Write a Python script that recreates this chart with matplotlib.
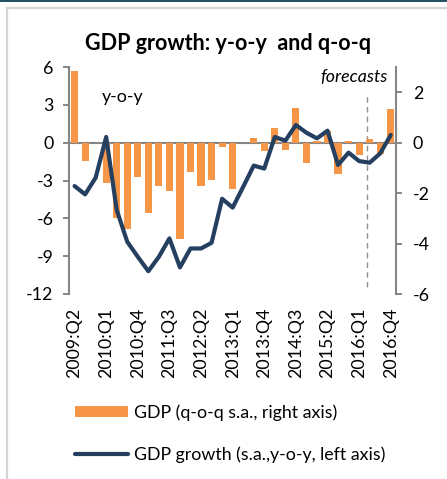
import matplotlib
matplotlib.use('Agg')
import matplotlib.pyplot as plt
from matplotlib.patches import Patch
from matplotlib.lines import Line2D
import numpy as np

plt.rcParams['font.family'] = ['Lato', 'DejaVu Sans']

# quarters 2009:Q2 .. 2016:Q4
quarters = [f"{y}:Q{q}" for y in range(2009, 2017) for q in range(1, 5)][1:]

# q-o-q s.a. (bars, right axis)
qoq = [2.86, -0.73, 0.0, -1.61, -3.00, -3.44, -1.36, -2.79, -1.73, -1.92,
       -3.80, -1.18, -1.72, -1.49, -0.17, -1.83, 0.0, 0.20, -0.33, 0.60,
       -0.29, 1.36, -0.81, 0.08, 0.45, -1.26, 0.07, -0.49, 0.16, -0.46, 1.32]

# y-o-y s.a. (line, left axis)
yoy = [-3.44, -4.10, -2.78, 0.45, -5.34, -7.86, -9.05, -10.19, -9.05, -7.59,
       -9.89, -8.39, -8.39, -7.94, -4.45, -5.15, -3.50, -1.82, -2.05, 0.45,
       0.16, 1.40, 0.79, 0.34, 0.95, -1.77, -0.79, -1.46, -1.59, -0.85, 0.61]

left_ticks = [6, 3, 0, -3, -6, -9, -12]
right_ticks = [2, 0, -2, -4, -6]
forecast_pos = 27.75

ORANGE = '#F79646'
NAVY = '#243F60'
GREY = '#868686'
FS = 12.8

W, H = 447, 479
fig = plt.figure(figsize=(W / 100, H / 100), dpi=100)

# outer frame
fig.add_artist(Line2D([0, 1], [1 - 1 / H, 1 - 1 / H], color='#1f4e61', lw=1.4))
fig.add_artist(Line2D([6.5 / W, 6.5 / W], [0, 1 - 8 / H], color='#d4d4d4', lw=1.6))
fig.add_artist(Line2D([6.5 / W, 1], [1 - 8 / H, 1 - 8 / H], color='#d4d4d4', lw=1.6))

ax = fig.add_axes([69.3 / W, 1 - 294 / H, (396 - 69.3) / W, (294 - 67) / H])
ax2 = ax.twinx()
x = np.arange(len(quarters))

ax2.bar(x, qoq, width=0.68, color=ORANGE, zorder=2)
ax2.axhline(0, color=GREY, lw=1.5, zorder=1)
ax2.axvline(forecast_pos, ymin=0.03, ymax=0.88, color='#909090', lw=1,
            ls=(0, (4, 3)), zorder=1)
ax.plot(x, yoy, color=NAVY, lw=3, solid_joinstyle='round',
        solid_capstyle='round', zorder=3)

ax.set_zorder(ax2.get_zorder() + 1)
ax.patch.set_visible(False)

ax.set_xlim(-0.5, len(quarters) - 0.5)
ax.set_ylim(-12, 6)
ax2.set_ylim(-6, 3)
ax.set_yticks(left_ticks)
ax2.set_yticks(right_ticks)
ax.set_yticklabels([str(t) for t in left_ticks])
ax2.set_yticklabels([str(t) for t in right_ticks])

ax.set_xticks(x[::3])
ax.set_xticklabels(quarters[::3], rotation=90, va='top', ha='center')

for a in (ax, ax2):
    for s in ('top', 'bottom'):
        a.spines[s].set_visible(False)
ax.spines['left'].set_color(GREY)
ax.spines['left'].set_linewidth(1.5)
ax2.spines['right'].set_color(GREY)
ax2.spines['right'].set_linewidth(1.5)
ax.spines['right'].set_visible(False)
ax2.spines['left'].set_visible(False)

ax.tick_params(axis='y', direction='out', length=4.3, width=1.4, color=GREY,
               pad=7, labelsize=FS)
ax2.tick_params(axis='y', direction='out', length=4, width=1.4, color=GREY,
                pad=8, labelsize=FS)
for lbl in ax2.get_yticklabels():
    lbl.set_horizontalalignment('left')
ax.tick_params(axis='x', length=0, pad=9.8, labelsize=FS)

fig.text(228 / W, 1 - 44 / H, 'GDP growth: y-o-y  and q-o-q', ha='center',
         va='center', fontsize=15.5, fontweight='bold')
fig.text(102 / W, 1 - 97 / H, 'y-o-y', ha='left', va='center', fontsize=FS)
fig.text(388 / W, 1 - 77 / H, 'forecasts', ha='right', va='center',
         fontsize=FS, style='italic')

handles = [Patch(facecolor=ORANGE, edgecolor='none'),
           Line2D([], [], color=NAVY, lw=3, solid_capstyle='round')]
labels = ['GDP (q-o-q s.a., right axis)', 'GDP growth (s.a.,y-o-y, left axis)']
fig.legend(handles, labels, loc='upper left', bbox_to_anchor=(75 / W, 1 - 404 / H),
           frameon=False, fontsize=FS, handlelength=3.0, handleheight=0.55,
           handletextpad=0.3, labelspacing=1.45, borderpad=0, borderaxespad=0)

fig.savefig('out.png', dpi=100)
